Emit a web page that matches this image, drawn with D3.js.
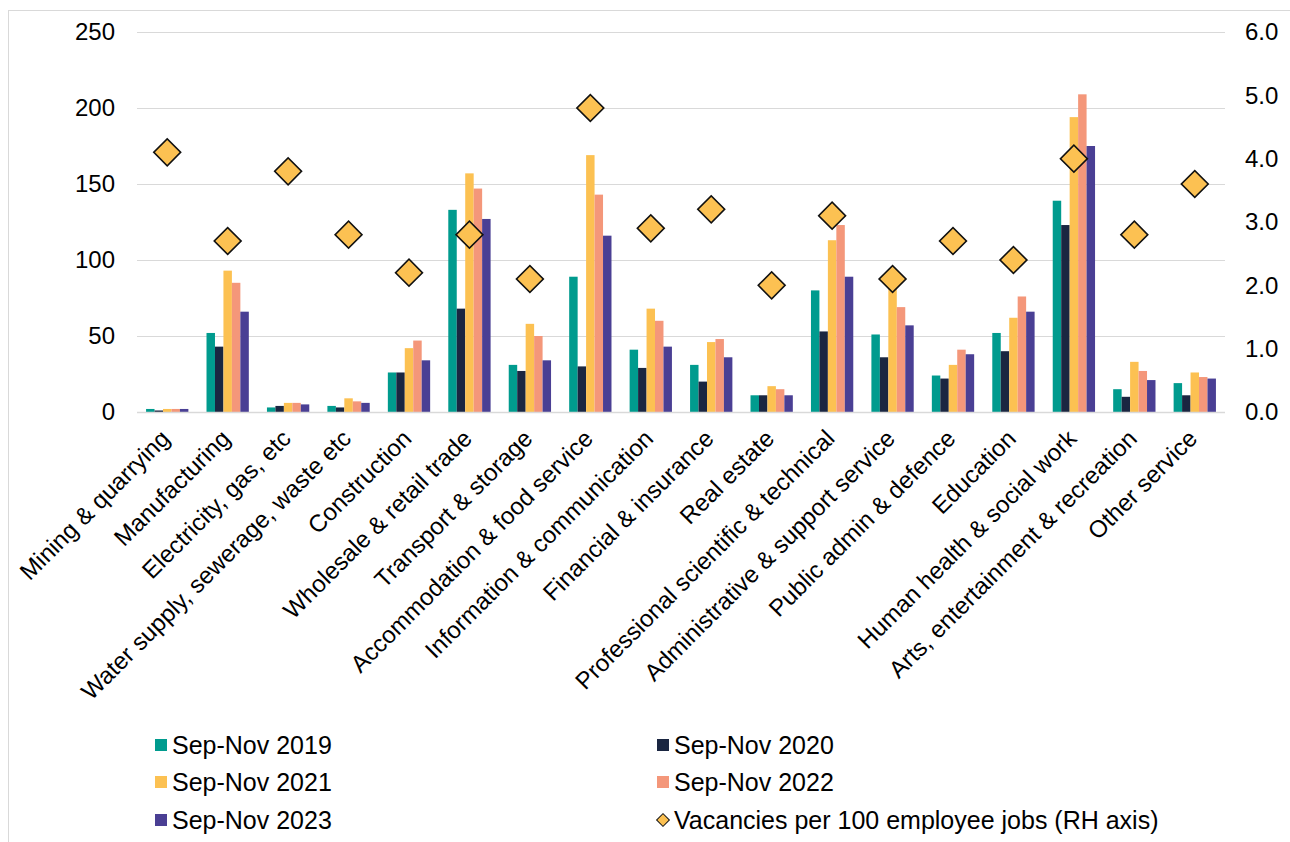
<!DOCTYPE html>
<html>
<head>
<meta charset="utf-8">
<script src="https://cdn.jsdelivr.net/npm/d3@7"></script>
<style>
  html, body { margin: 0; padding: 0; background: #fff; }
  svg { display: block; font-family: "Liberation Sans", Arial, sans-serif; }
</style>
</head>
<body>
<svg id="chart" width="1290" height="842"></svg>
<script>
// Industry sectors along the x axis
const categories = [
  "Mining & quarrying", "Manufacturing", "Electricity, gas, etc",
  "Water supply, sewerage, waste etc", "Construction", "Wholesale & retail trade",
  "Transport & storage", "Accommodation & food service", "Information & communication",
  "Financial & insurance", "Real estate", "Professional scientific & technical",
  "Administrative & support service", "Public admin & defence", "Education",
  "Human health & social work", "Arts, entertainment & recreation", "Other service"
];

// Vacancies (thousands) per period
const seriesNames = ["Sep-Nov 2019", "Sep-Nov 2020", "Sep-Nov 2021", "Sep-Nov 2022", "Sep-Nov 2023"];
const sep2019 = [2, 52, 3, 4, 26, 133, 31, 89, 41, 31, 11, 80, 51, 24, 52, 139, 15, 19];
const sep2020 = [1, 43, 4, 3, 26, 68, 27, 30, 29, 20, 11, 53, 36, 22, 40, 123, 10, 11];
const sep2021 = [2, 93, 6, 9, 42, 157, 58, 169, 68, 46, 17, 113, 83, 31, 62, 194, 33, 26];
const sep2022 = [2, 85, 6, 7, 47, 147, 50, 143, 60, 48, 15, 123, 69, 41, 76, 209, 27, 23];
const sep2023 = [2, 66, 5, 6, 34, 127, 34, 116, 43, 36, 11, 89, 57, 38, 66, 175, 21, 22];
const seriesColors = ["#009B8E", "#1A2641", "#FCC152", "#F4977A", "#4A3F94"];

// Vacancies per 100 employee jobs (right-hand axis)
const ratio = [4.1, 2.7, 3.8, 2.8, 2.2, 2.8, 2.1, 4.8, 2.9, 3.2, 2.0, 3.1, 2.1, 2.7, 2.4, 4.0, 2.8, 3.6];
const ratioName = "Vacancies per 100 employee jobs (RH axis)";

const leftTicks = [0, 50, 100, 150, 200, 250];
const rightTicks = [0, 1, 2, 3, 4, 5, 6];

const series = [sep2019, sep2020, sep2021, sep2022, sep2023];

const FONT = 24;
const LEGEND_FONT = 25;
const svg = d3.select("#chart");

// outer frame
svg.append("rect")
  .attr("x", 8.5).attr("y", 10.5).attr("width", 1300).attr("height", 900)
  .attr("fill", "none").attr("stroke", "#d9d9d9").attr("stroke-width", 1);

const plot = { left: 137, right: 1225, top: 32, bottom: 412 };

const x = d3.scaleBand().domain(categories).range([plot.left, plot.right]).paddingInner(0).paddingOuter(0);
const xInner = d3.scaleBand().domain(d3.range(series.length))
  .range([x.bandwidth() * 0.15, x.bandwidth() * 0.85]).padding(0);
const yL = d3.scaleLinear().domain([0, 250]).range([plot.bottom, plot.top]);
const yR = d3.scaleLinear().domain([0, 6]).range([plot.bottom, plot.top]);

// gridlines
svg.append("g").selectAll("line").data(leftTicks.filter(d => d > 0)).join("line")
  .attr("x1", plot.left).attr("x2", plot.right)
  .attr("y1", d => Math.round(yL(d)) + 0.5).attr("y2", d => Math.round(yL(d)) + 0.5)
  .attr("stroke", "#d9d9d9").attr("stroke-width", 1);

// left axis labels
const axL = d3.axisLeft(yL).tickValues(leftTicks).tickSize(0).tickPadding(0).tickFormat(d3.format("d"));
const gL = svg.append("g").attr("transform", `translate(115,0)`).call(axL);
gL.select(".domain").remove();
gL.selectAll("text").attr("font-size", FONT).attr("fill", "#000").attr("font-family", "Liberation Sans, Arial, sans-serif");

// right axis labels
const axR = d3.axisRight(yR).tickValues(rightTicks).tickSize(0).tickPadding(0).tickFormat(d3.format(".1f"));
const gR = svg.append("g").attr("transform", `translate(1245,0)`).call(axR);
gR.select(".domain").remove();
gR.selectAll("text").attr("font-size", FONT).attr("fill", "#000").attr("font-family", "Liberation Sans, Arial, sans-serif");

// bars
const groups = svg.append("g").selectAll("g").data(categories).join("g")
  .attr("transform", d => `translate(${x(d)},0)`);
groups.selectAll("rect")
  .data((d, i) => series.map((s, k) => ({ k, v: s[i] })))
  .join("rect")
  .attr("x", d => xInner(d.k))
  .attr("width", xInner.bandwidth())
  .attr("y", d => yL(d.v))
  .attr("height", d => yL(0) - yL(d.v))
  .attr("fill", d => seriesColors[d.k]);

// baseline
svg.append("line")
  .attr("x1", plot.left).attr("x2", plot.right)
  .attr("y1", yL(0) + 0.5).attr("y2", yL(0) + 0.5)
  .attr("stroke", "#d9d9d9").attr("stroke-width", 1.5);

// ratio markers
const diamond = d3.symbol().type(d3.symbolSquare).size(19 * 19);
svg.append("g").selectAll("path").data(categories).join("path")
  .attr("d", diamond)
  .attr("transform", (d, i) => `translate(${x(d) + x.bandwidth() / 2},${yR(ratio[i])}) rotate(45)`)
  .attr("fill", "#FCC152").attr("stroke", "#111").attr("stroke-width", 1.6);

// category labels
svg.append("g").selectAll("text").data(categories).join("text")
  .attr("transform", d => `translate(${x(d) + x.bandwidth() / 2 + 4},${440}) rotate(-45)`)
  .attr("text-anchor", "end")
  .attr("font-size", FONT)
  .attr("fill", "#000")
  .text(d => d);

// legend
const legendItems = [
  { name: seriesNames[0], color: seriesColors[0], col: 0, row: 0 },
  { name: seriesNames[1], color: seriesColors[1], col: 1, row: 0 },
  { name: seriesNames[2], color: seriesColors[2], col: 0, row: 1 },
  { name: seriesNames[3], color: seriesColors[3], col: 1, row: 1 },
  { name: seriesNames[4], color: seriesColors[4], col: 0, row: 2 },
  { name: ratioName, color: "#FCC152", col: 1, row: 2, marker: true }
];
const legendX = [155, 657];
const legendY = [745, 782, 820];
const lg = svg.append("g").selectAll("g").data(legendItems).join("g")
  .attr("transform", d => `translate(${legendX[d.col]},${legendY[d.row]})`);
lg.filter(d => !d.marker).append("rect")
  .attr("x", 0).attr("y", -6).attr("width", 12).attr("height", 12)
  .attr("fill", d => d.color);
lg.filter(d => d.marker).append("path")
  .attr("d", d3.symbol().type(d3.symbolSquare).size(9 * 9))
  .attr("transform", "translate(6,0) rotate(45)")
  .attr("fill", "#FCC152").attr("stroke", "#111").attr("stroke-width", 1);
lg.append("text")
  .attr("x", 17).attr("y", 0).attr("dy", "0.35em")
  .attr("font-size", LEGEND_FONT).attr("fill", "#000")
  .text(d => d.name);
</script>
</body>
</html>
